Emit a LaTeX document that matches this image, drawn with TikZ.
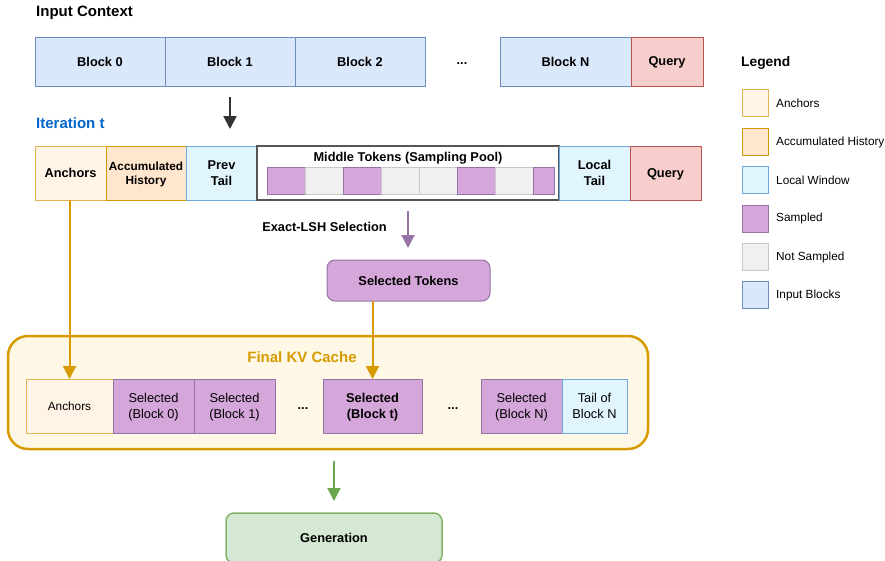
\documentclass[tikz,border=0pt]{standalone}
\usepackage{fontspec}
\setmainfont{Liberation Sans}
\usepackage{tikz}
\usetikzlibrary{arrows.meta}

\definecolor{blkfill}{HTML}{DAE8FC}
\definecolor{blkline}{HTML}{6C8EBF}
\definecolor{qryfill}{HTML}{F8CECC}
\definecolor{qryline}{HTML}{B85450}
\definecolor{ancfill}{HTML}{FFF4E6}
\definecolor{ancline}{HTML}{E3B552}
\definecolor{accfill}{HTML}{FFE6CC}
\definecolor{accline}{HTML}{D79B00}
\definecolor{locfill}{HTML}{E1F5FE}
\definecolor{locline}{HTML}{6FA8DC}
\definecolor{smpfill}{HTML}{D5A6D9}
\definecolor{smpline}{HTML}{9673A6}
\definecolor{nsmpfill}{HTML}{F0F0F0}
\definecolor{nsmpline}{HTML}{C8C8C8}
\definecolor{kvfill}{HTML}{FFF8E6}
\definecolor{genfill}{HTML}{D5E8D4}
\definecolor{genline}{HTML}{82B366}
\definecolor{genarrow}{HTML}{6AA84F}
\definecolor{itercol}{HTML}{0066CC}
\definecolor{poolline}{HTML}{555555}
\definecolor{darkarrow}{HTML}{333333}

\newcommand{\lblfont}{\fontsize{12.8}{15.5}\selectfont\bfseries}
\newcommand{\txtfont}{\fontsize{12.8}{15.5}\selectfont}
\newcommand{\smlfont}{\fontsize{11.8}{14.5}\selectfont}
\newcommand{\ttlfont}{\fontsize{15}{18}\selectfont\bfseries}

\tikzset{
	cell/.style={rectangle, draw, line width=1pt, inner sep=0pt, outer sep=0pt, align=center, text depth=0pt, font=\lblfont},
	blk/.style={cell, fill=blkfill, draw=blkline, minimum height=49},
	qry/.style={cell, fill=qryfill, draw=qryline},
	anc/.style={cell, fill=ancfill, draw=ancline},
	acc/.style={cell, fill=accfill, draw=accline},
	loc/.style={cell, fill=locfill, draw=locline},
	smp/.style={cell, fill=smpfill, draw=smpline},
	nsmp/.style={cell, fill=nsmpfill, draw=nsmpline},
	tok/.style={minimum width=38, minimum height=27},
	lgd/.style={minimum width=26, minimum height=27},
	lgdtext/.style={anchor=west, inner sep=0pt, font=\smlfont},
	arr/.style={line width=2pt, -{Triangle[length=13pt,width=13pt]}}
}

\begin{document}
\begin{tikzpicture}[x=1pt, y=-1pt]
		\useasboundingbox (0,0) rectangle (885,560);
		\clip (0,0) rectangle (885,560);
%		\draw[help lines, step=50] (0,0) grid (885,560);
		\path (36,13) node(input_title) [anchor=west, inner sep=0pt, font=\ttlfont] {Input Context};
		\path (100,61.5) node(block0) [blk, minimum width=130] {Block 0};
		\path (230,61.5) node(block1) [blk, minimum width=130] {Block 1};
		\path (360,61.5) node(block2) [blk, minimum width=130] {Block 2};
		\path (462,64) node(dots0) [font=\lblfont] {...};
		\path (565.5,61.5) node(blockN) [blk, minimum width=131] {Block N};
		\path (667,61.5) node(query0) [qry, minimum width=72, minimum height=49] {Query};

		\path (36,123) node(iter_title) [anchor=west, inner sep=0pt, font=\ttlfont, text=itercol] {Iteration t};
		\path (70.5,173) node(anchors) [anc, minimum width=71, minimum height=54] {Anchors};
		\path (146,173) node(history) [acc, minimum width=80, minimum height=54, font=\smlfont\bfseries] {Accumulated\\History};
		\path (221.5,173) node(prev) [loc, minimum width=71, minimum height=54] {Prev\\Tail};
		\path (408,173) node(pool) [cell, fill=white, draw=poolline, line width=2pt, minimum width=302, minimum height=54] {};
		\path (408,157) node(pool_title) [font=\lblfont, inner sep=0pt, text depth=0pt] {Middle Tokens (Sampling Pool)};
		\path (594.5,173) node(local) [loc, minimum width=71, minimum height=54] {Local\\Tail};
		\path (665.5,173) node(query1) [qry, minimum width=71, minimum height=54] {Query};

		\path (286,180.5) node(tok0) [smp, tok] {};
		\path (324,180.5) node(tok1) [nsmp, tok] {};
		\path (362,180.5) node(tok2) [smp, tok] {};
		\path (400,180.5) node(tok3) [nsmp, tok] {};
		\path (438,180.5) node(tok4) [nsmp, tok] {};
		\path (476,180.5) node(tok5) [smp, tok] {};
		\path (514,180.5) node(tok6) [nsmp, tok] {};
		\path (543.5,180.5) node(tok7) [smp, minimum width=21, minimum height=27] {};

		\path (324.5,227) node(lsh) [font=\lblfont, text depth=0pt] {Exact-LSH Selection};
		\path (408.5,280.5) node(seltok) [smp, rounded corners=8pt, minimum width=163, minimum height=41] {Selected Tokens};

		\path (328,392.5) node(kvcache) [rectangle, draw=accline, fill=kvfill, line width=2.5pt, rounded corners=20pt, minimum width=640, minimum height=113] {};
		\path (302,357) node(kv_title) [font=\ttlfont, text=accline, inner sep=0pt, text depth=0pt] {Final KV Cache};
		\path (69.5,406) node(kv_anchors) [anc, minimum width=87, minimum height=54, font=\smlfont] {Anchors};
		\path (153.5,406) node(sel0) [smp, minimum width=81, minimum height=54, font=\txtfont] {Selected\\(Block 0)};
		\path (234.5,406) node(sel1) [smp, minimum width=81, minimum height=54, font=\txtfont] {Selected\\(Block 1)};
		\path (303,409) node(dots1) [font=\lblfont] {...};
		\path (372.5,406) node(selt) [smp, minimum width=99, minimum height=54] {Selected\\(Block t)};
		\path (453,409) node(dots2) [font=\lblfont] {...};
		\path (521.5,406) node(selN) [smp, minimum width=81, minimum height=54, font=\txtfont] {Selected\\(Block N)};
		\path (594.5,406) node(tailN) [loc, minimum width=65, minimum height=54, font=\txtfont] {Tail of\\Block N};

		\path (334,538) node(gen) [cell, fill=genfill, draw=genline, line width=1.5pt, rounded corners=8pt, minimum width=216, minimum height=50] {Generation};

		\path (741,63) node(legend_title) [anchor=west, inner sep=0pt, font=\fontsize{13.8}{16}\selectfont\bfseries] {Legend};
		\path (755,103) node(lgd_anc) [anc, lgd] {};
		\path (755,142) node(lgd_acc) [acc, lgd] {};
		\path (755,180) node(lgd_loc) [loc, lgd] {};
		\path (755,218.5) node(lgd_smp) [smp, lgd] {};
		\path (755,257) node(lgd_nsmp) [nsmp, lgd] {};
		\path (755,295) node(lgd_blk) [cell, fill=blkfill, draw=blkline, lgd] {};
		\path (lgd_anc.east) +(8,0) node[lgdtext] {Anchors};
		\path (lgd_acc.east) +(8,0) node[lgdtext] {Accumulated History};
		\path (lgd_loc.east) +(8,0) node[lgdtext] {Local Window};
		\path (lgd_smp.east) +(8,0) node[lgdtext] {Sampled};
		\path (lgd_nsmp.east) +(8,0) node[lgdtext] {Not Sampled};
		\path (lgd_blk.east) +(8,0) node[lgdtext] {Input Blocks};

		\draw[arr, draw=darkarrow, shorten <=11pt, shorten >=17pt] (block1.south) -- (block1.south |- pool.north);
		\draw[arr, draw=smpline, shorten <=11pt, shorten >=12pt] (pool.south) -- (pool.south |- seltok.north);
		\draw[arr, draw=accline] (anchors.south -| kv_anchors.north) -- (kv_anchors.north);
		\draw[arr, draw=accline] (seltok.south -| selt.north) -- (selt.north);
		\draw[arr, draw=genarrow, shorten <=11pt, shorten >=12pt] (gen.north |- kvcache.south) -- (gen.north);
	\end{tikzpicture}
\end{document}
